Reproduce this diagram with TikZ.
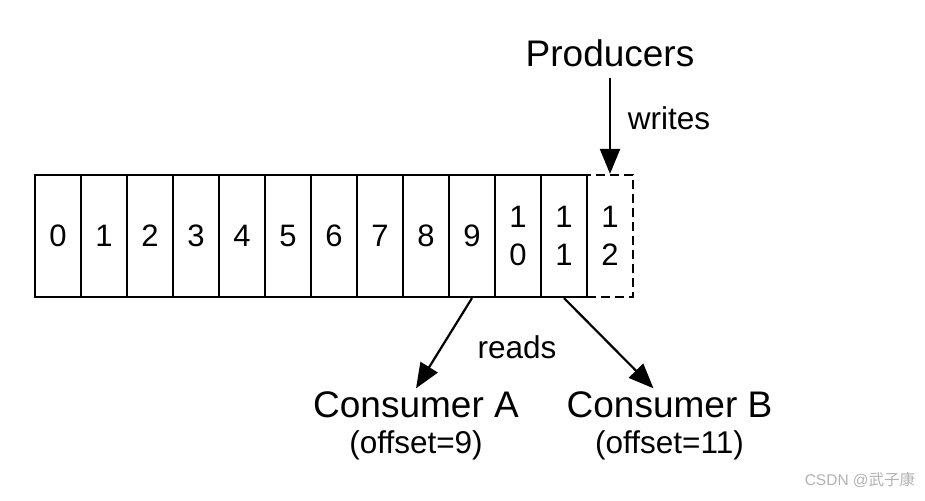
\documentclass[tikz,border=0pt]{standalone}
\usepackage{fontspec}
\setmainfont{Liberation Sans}
\newfontfamily\cjkfont{Noto Sans CJK SC}
\usetikzlibrary{arrows.meta,positioning}

\begin{document}
\begin{tikzpicture}[x=1pt,y=-1pt]
\tikzset{cell/.style={draw,line width=2.2pt,minimum width=46pt,minimum height=122pt,
    inner sep=0pt,align=center,font=\fontsize{31}{38}\selectfont},
  role/.style={font=\fontsize{37}{40}\selectfont},
  small/.style={font=\fontsize{31.5}{36}\selectfont},
  arr/.style={line width=2.2pt,-{Triangle[length=25pt,width=20pt]}}}
\useasboundingbox (0,0) rectangle (925,500);
% the log
\foreach \i in {0,...,9}
    \node[cell] (c\i) at ({58+46*\i},236) {\i};
\node[cell] (c10) at (518,236) {1\\0};
\node[cell] (c11) at (564,236) {1\\1};
\node[cell,dash pattern=on 9pt off 5pt] (c12) at (610,236) {1\\2};
% producers
\node[role] (prod) at (610,53) {Producers};
\draw[arr,shorten <=8pt] (prod.south) -- (c12.north);
\node[small] (writes) at (669,118) {writes};
% consumers
\node[role] (consA) at (416,405) {Consumer A};
\node[small] (offA) at (416,445) {(offset=9)};
\node[role] (consB) at (669.5,405) {Consumer B};
\node[small] (offB) at (669.5,445) {(offset=11)};
\draw[arr] (c9.south) -- (consA.north);
\draw[arr] (c11.south) -- ([xshift=-16pt]consB.north);
\node[small] (reads) at (517,347) {reads};
% watermark
\node[font=\fontsize{15.5}{17}\selectfont,text=black!30] (mark) at (860,480) {CSDN @{\cjkfont 武子康}};
\end{tikzpicture}
\end{document}
